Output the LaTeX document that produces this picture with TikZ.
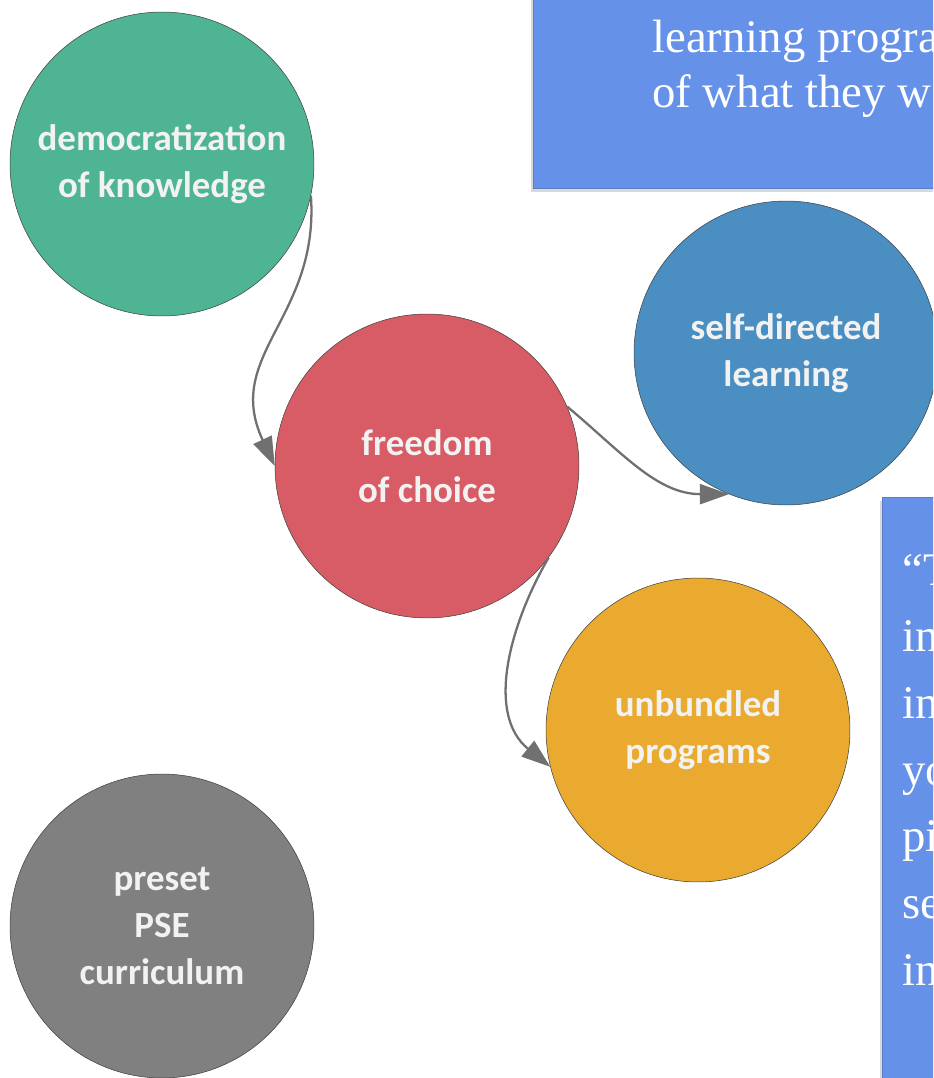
\documentclass[tikz,border=0pt]{standalone}
\usepackage{fontspec}
\setmainfont{Liberation Serif}
\newfontfamily\carlito{Carlito}
\usepackage{xcolor}
\usetikzlibrary{arrows.meta,shadows}

\definecolor{knowgreen}{RGB}{78,180,148}
\definecolor{choicered}{RGB}{216,92,102}
\definecolor{selfblue}{RGB}{74,142,194}
\definecolor{unbundorange}{RGB}{234,170,48}
\definecolor{presetgray}{RGB}{128,128,128}
\definecolor{boxblue}{RGB}{102,145,232}
\definecolor{boxedge}{RGB}{88,126,200}
\definecolor{linkgray}{RGB}{112,112,112}

\begin{document}
\begin{tikzpicture}[x=0.02cm,y=-0.02cm,
		idea/.style={circle, draw=black!75, line width=0.3pt, minimum size=6.08cm, inner sep=0pt, align=center, text=white!95!black, font=\carlito\bfseries\fontsize{21}{26.6}\selectfont},
		link/.style={draw=linkgray, line width=1.3pt, -{Triangle[length=0.58cm,width=0.4cm]}},
		quotebox/.style={fill=boxblue, draw=boxedge, line width=0.5pt, drop shadow={shadow xshift=-0.05cm, shadow yshift=-0.08cm, opacity=0.3}},
		quotetext/.style={anchor=base west, inner sep=0pt, text=white, font=\fontsize{26.6}{32}\selectfont}]
			\clip (0,0) rectangle (933,1078);
			% quote boxes
			\path[quotebox] (533,-20) rectangle (960,188);
			\node[quotetext] (topa) at (652,53) {learning progra};
			\node[quotetext] (topb) at (652,108) {of what they w};
			\path[quotebox] (882,497) rectangle (960,1100);
			\foreach \word [count=\i] in {“T,in,in,yo,pi,se,in}
				\node[quotetext] (side\i) at (902,{585+66.7*(\i-1)}) {\word};
			% ideas
			\node[idea, fill=knowgreen] (know) at (162,164) {democratization\\of knowledge};
			\node[idea, fill=choicered] (choice) at (427,466) {freedom\\of choice};
			\node[idea, fill=selfblue] (self) at (786,353) {self-directed\\learning};
			\node[idea, fill=unbundorange] (unbund) at (698,730) {unbundled\\programs};
			\node[idea, fill=presetgray] (preset) at (162,926) {preset\\PSE\\curriculum};
			% links
			\draw[link] (know.-12) to[out=-86, in=115, looseness=1.15] (choice.180);
			\draw[link] (choice.23) to[out=-40, in=180] (self.248);
			\draw[link] (choice.-37) to[out=-120, in=141] (unbund.194);
		\end{tikzpicture}
\end{document}
